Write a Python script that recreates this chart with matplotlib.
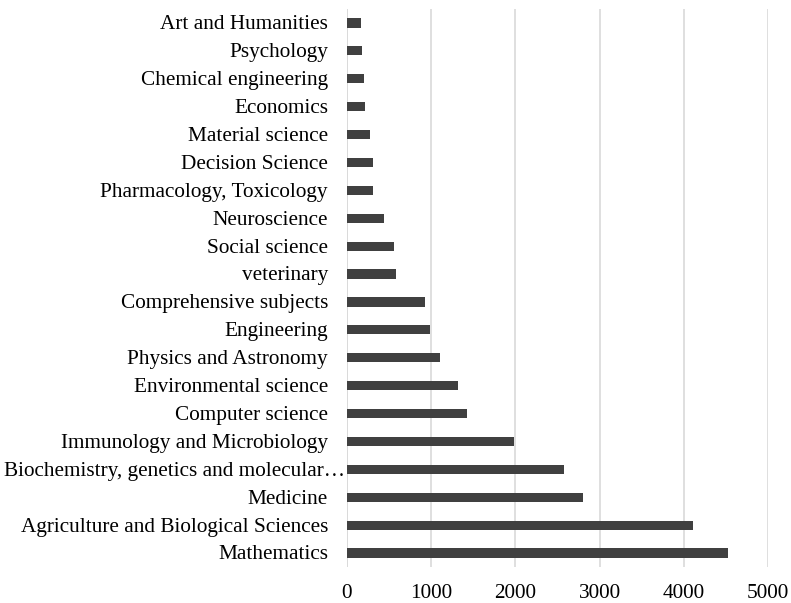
import matplotlib
matplotlib.use("Agg")
import matplotlib.pyplot as plt

categories = [
    "Mathematics",
    "Agriculture and Biological Sciences",
    "Medicine",
    "Biochemistry, genetics and molecular…",
    "Immunology and Microbiology",
    "Computer science",
    "Environmental science",
    "Physics and Astronomy",
    "Engineering",
    "Comprehensive subjects",
    "veterinary",
    "Social science",
    "Neuroscience",
    "Pharmacology, Toxicology",
    "Decision Science",
    "Material science",
    "Economics",
    "Chemical engineering",
    "Psychology",
    "Art and Humanities",
]
values = [4530, 4115, 2800, 2580, 1985, 1420, 1320, 1100, 990, 930,
          580, 558, 440, 313, 305, 269, 214, 206, 174, 166]
xticks = [0, 1000, 2000, 3000, 4000, 5000]

plt.rcParams['font.family'] = ['Liberation Serif', 'DejaVu Serif']
FS = 15.3

fig = plt.figure(figsize=(7.91, 6.03), dpi=100)
ax = fig.add_axes([347/791, 1 - 567/603, (768 - 347)/791, (567 - 9)/603])

ypos = list(range(len(categories)))
ax.barh(ypos, values, height=0.33, color='#404040', zorder=3)
ax.set_yticks(ypos)
ax.set_yticklabels([])
for y, cat in zip(ypos, categories):
    off = -1.5 if cat.endswith('…') else -13.7
    ax.annotate(cat, xy=(0, y), xycoords=('axes fraction', 'data'),
                xytext=(off, -1.4), textcoords='offset points',
                ha='right', va='center', fontsize=FS, color='#000000')
ax.set_ylim(-0.5, len(categories) - 0.5)
ax.set_xlim(0, 5000)
ax.set_xticks(xticks)
ax.set_xticklabels([str(t) for t in xticks], fontsize=FS)
ax.xaxis.grid(True, color='#d9d9d9', linewidth=1.2, zorder=0)
ax.set_axisbelow(True)
for s in ax.spines.values():
    s.set_visible(False)
ax.axvline(0, color='#d9d9d9', linewidth=1.2, zorder=1)
ax.tick_params(axis='both', length=0)
ax.tick_params(axis='x', pad=12)

fig.savefig("out.png", dpi=100)
